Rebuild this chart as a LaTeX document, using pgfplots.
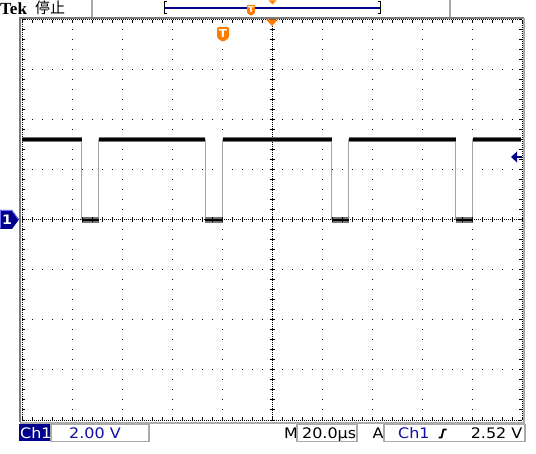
\documentclass[border=0pt]{standalone}
\usepackage{fontspec}
\setmainfont{DejaVu Sans}
\newfontfamily\tek[FakeStretch=1.1]{DejaVu Sans}
\newfontfamily\tekserif{Liberation Serif}
\newfontfamily\cjk{Noto Sans CJK SC}
\usepackage{pgfplots}
\pgfplotsset{compat=1.18}
\definecolor{tknavy}{RGB}{0,0,140}
\definecolor{tkblue}{RGB}{16,16,165}
\definecolor{tkorange}{RGB}{255,122,0}
\definecolor{framegray}{RGB}{125,125,125}
\definecolor{boxgray}{RGB}{170,170,170}
\definecolor{edgegray}{RGB}{165,165,165}
\begin{document}
\begin{tikzpicture}[x=1pt,y=1pt]
\useasboundingbox (0,0) rectangle (536,453);
\fill[white] (0,0) rectangle (536,453);
% ---- waveform axis (x in divisions of 20 us, y in divisions of 2 V)
\begin{axis}[
  at={(22pt,33pt)}, anchor=south west,
  width=500pt, height=400pt, scale only axis,
  xmin=-5, xmax=5, ymin=-4, ymax=4,
  axis line style={draw=none},
  xtick={-4,...,4}, ytick={-3,...,3},
  xticklabels={}, yticklabels={},
  major tick length=0pt, tick style={draw=none},
  grid=major,
  major grid style={black, line width=1pt, dash pattern=on 1pt off 9pt},
  unbounded coords=jump,
]
% thin gray edges of the square wave
\addplot[edgegray, line width=1pt, mark=none] coordinates {
(-5,1.61) (-3.81,1.61) (-3.81,0) (-3.47,0) (-3.47,1.61) (-1.34,1.61) (-1.34,0)
(-0.99,0) (-0.99,1.61) (1.19,1.61) (1.19,0) (1.53,0) (1.53,1.61) (3.67,1.61)
(3.67,0) (4.01,0) (4.01,1.61) (4.98,1.61)};
% noisy high/low levels (outer fuzz)
\addplot[black!55, line width=5.5pt, mark=none, line cap=butt] coordinates {
(-5,1.61) (-3.81,1.61) (-3.81,nan)
(-3.47,1.61) (-1.34,1.61) (-1.34,nan)
(-0.99,1.61) (1.19,1.61) (1.19,nan)
(1.53,1.61) (3.67,1.61) (3.67,nan)
(4.01,1.61) (4.98,1.61) (4.98,nan)
(-3.81,0) (-3.47,0) (-3.47,nan)
(-1.34,0) (-0.99,0) (-0.99,nan)
(1.19,0) (1.53,0) (1.53,nan)
(3.67,0) (4.01,0)};
% core of the trace
\addplot[black, line width=2.6pt, mark=none, line cap=butt] coordinates {
(-5,1.61) (-3.81,1.61) (-3.81,nan)
(-3.47,1.61) (-1.34,1.61) (-1.34,nan)
(-0.99,1.61) (1.19,1.61) (1.19,nan)
(1.53,1.61) (3.67,1.61) (3.67,nan)
(4.01,1.61) (4.98,1.61) (4.98,nan)
(-3.81,0) (-3.47,0) (-3.47,nan)
(-1.34,0) (-0.99,0) (-0.99,nan)
(1.19,0) (1.53,0) (1.53,nan)
(3.67,0) (4.01,0)};
\end{axis}
% ---- screen decorations in pixel coordinates (y downwards)
\begin{scope}[shift={(0,453)}, yscale=-1]
  % frame
  \draw[framegray, line width=2.5pt] (20,422) -- (20,18) -- (524,18);
  \draw[boxgray, line width=1.2pt] (524,18) -- (524,423) -- (20,423);
  % graticule border (dense dots + inward ticks)
  \draw[black, line width=1pt, dash pattern=on 1pt off 1pt] (22,20) rectangle (522,420);
  \foreach \i in {0,...,50} {
    \draw[black, line width=1pt] (22+10*\i,20) -- ++(0,3);
    \draw[black, line width=1pt] (22+10*\i,420) -- ++(0,-3);
  }
  \foreach \j in {0,...,40} {
    \draw[black, line width=1pt] (22,20+10*\j) -- ++(3,0);
    \draw[black, line width=1pt] (522,20+10*\j) -- ++(-3,0);
  }
  % centre cross
  \draw[black, line width=1pt, dash pattern=on 1pt off 1pt] (22,220) -- (522,220);
  \draw[black, line width=1pt, dash pattern=on 1pt off 1pt] (272,20) -- (272,420);
  \foreach \i in {0,...,50} \draw[black, line width=1pt] (22+10*\i,217.5) -- (22+10*\i,222.5);
  \foreach \j in {0,...,40} \draw[black, line width=1pt] (269.5,20+10*\j) -- (274.5,20+10*\j);
  % channel 1 ground marker
  \fill[tknavy] (0,210) -- (12,210) -- (19,219.5) -- (12,229) -- (0,229) -- cycle;
  \draw[blue!55!white, line width=0.8pt] (0.5,228.5) -- (0.5,210.5) -- (12,210.5) -- (18.5,219.5);
  \node[white, font=\tek\bfseries\fontsize{13}{13}\selectfont, inner sep=0pt] at (7,219.5) {1};
  % trigger level arrow
  \fill[tknavy] (511,157) -- (517,151.5) -- (517,162.5) -- cycle;
  \fill[tknavy] (516,155.8) rectangle (522,158.4);
  % trigger position marker and T badge
  \fill[tkorange] (266,19.5) -- (278,19.5) -- (272,26) -- cycle;
  \fill[tkorange, rounded corners=1.5pt] (217,27) -- (229,27) -- (229,38) -- (223,42) -- (217,38) -- cycle;
  \node[white, font=\tek\bfseries\fontsize{11}{11}\selectfont, inner sep=0pt] at (223,33.5) {T};
  % top status bar
  \node[anchor=base west, inner sep=0pt, font=\tekserif\bfseries\fontsize{17}{17}\selectfont] at (0,14.5) {Tek};
  \node[anchor=base west, inner sep=0pt, font=\cjk\fontsize{15}{15}\selectfont] at (35,14) {停止};
  \draw[boxgray, line width=1.2pt] (92,0) -- (92,17);
  \draw[boxgray, line width=1.2pt] (450,0) -- (450,17);
  \draw[tknavy, line width=1.2pt] (164,8) -- (380,8);
  \draw[black, line width=1pt] (166.5,2) -- (164,2) -- (164,14) -- (166.5,14);
  \draw[black, line width=1pt] (377.5,2) -- (380,2) -- (380,14) -- (377.5,14);
  \fill[tkorange, rounded corners=1pt] (247,5) -- (255,5) -- (255,13) -- (251,16) -- (247,13) -- cycle;
  \node[white, font=\tek\bfseries\fontsize{8}{8}\selectfont, inner sep=0pt] at (251,10) {T};
  \fill[tkorange] (268.5,0.5) -- (276.5,0.5) -- (272.5,4.5) -- cycle;
  % bottom readouts
  \fill[tknavy] (19,424) rectangle (50,441);
  \node[white, anchor=base west, inner sep=0pt, font=\tek\fontsize{14.5}{14.5}\selectfont] at (20,438.3) {Ch1};
  \draw[boxgray, line width=1.2pt] (51,424.5) rectangle (149,441.5);
  \node[tkblue, anchor=base west, inner sep=0pt, font=\tek\fontsize{14.5}{14.5}\selectfont] at (69,438.3) {2.00 V};
  \node[black, anchor=base west, inner sep=0pt, font=\tek\fontsize{14.5}{14.5}\selectfont] at (284,438.3) {M};
  \draw[boxgray, line width=1.2pt] (297,424.5) rectangle (357,441.5);
  \node[black, anchor=base west, inner sep=0pt, font=\tek\fontsize{14.5}{14.5}\selectfont] at (302,438.3) {20.0µs};
  \node[black, anchor=base west, inner sep=0pt, font=\tek\fontsize{14.5}{14.5}\selectfont] at (372.5,438.3) {A};
  \draw[boxgray, line width=1.2pt] (384,424.5) rectangle (525,441.5);
  \node[tkblue, anchor=base west, inner sep=0pt, font=\tek\fontsize{14.5}{14.5}\selectfont] at (398,438.3) {Ch1};
  \draw[black, line width=1.8pt] (438.5,437.5) -- (441.5,437.5) -- (443.5,429.5) -- (446.5,429.5);
  \node[black, anchor=base east, inner sep=0pt, font=\tek\fontsize{14.5}{14.5}\selectfont] at (522.5,438.3) {2.52 V};
\end{scope}
\end{tikzpicture}
\end{document}
